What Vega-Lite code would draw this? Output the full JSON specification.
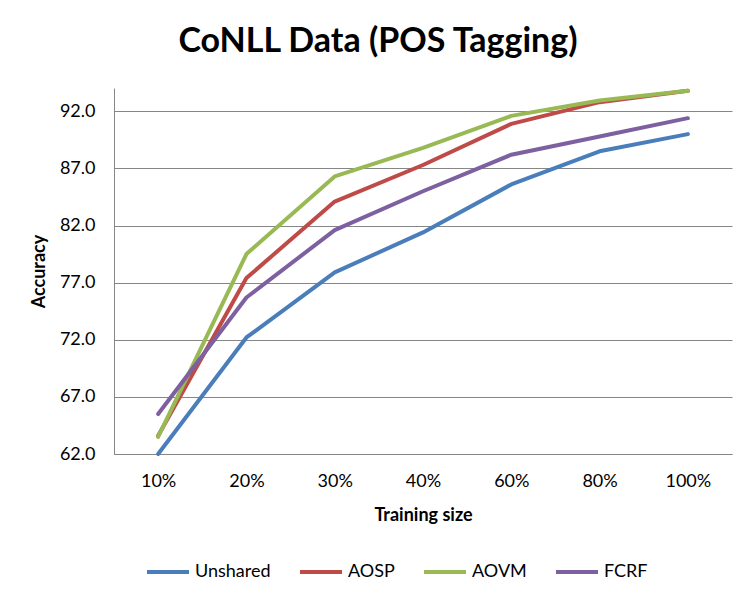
{
  "$schema": "https://vega.github.io/schema/vega-lite/v6.json",
  "autosize": "none",
  "width": 618,
  "height": 366,
  "padding": {"left": 114, "top": 88, "right": 24, "bottom": 148},
  "background": "white",
  "title": {
    "text": "CoNLL Data (POS Tagging)",
    "anchor": "middle",
    "dx": -45,
    "dy": 32,
    "offset": 34,
    "baseline": "alphabetic",
    "font": "Lato",
    "fontSize": 34,
    "fontWeight": "bold",
    "color": "black"
  },
  "data": {
    "values": [
      {"size": "10%", "model": "Unshared", "acc": 62.0},
      {"size": "20%", "model": "Unshared", "acc": 72.2},
      {"size": "30%", "model": "Unshared", "acc": 77.9},
      {"size": "40%", "model": "Unshared", "acc": 81.4},
      {"size": "60%", "model": "Unshared", "acc": 85.6},
      {"size": "80%", "model": "Unshared", "acc": 88.5},
      {"size": "100%", "model": "Unshared", "acc": 90.0},
      {"size": "10%", "model": "AOSP", "acc": 63.6},
      {"size": "20%", "model": "AOSP", "acc": 77.4},
      {"size": "30%", "model": "AOSP", "acc": 84.1},
      {"size": "40%", "model": "AOSP", "acc": 87.3},
      {"size": "60%", "model": "AOSP", "acc": 90.9},
      {"size": "80%", "model": "AOSP", "acc": 92.8},
      {"size": "100%", "model": "AOSP", "acc": 93.8},
      {"size": "10%", "model": "AOVM", "acc": 63.5},
      {"size": "20%", "model": "AOVM", "acc": 79.5},
      {"size": "30%", "model": "AOVM", "acc": 86.3},
      {"size": "40%", "model": "AOVM", "acc": 88.8},
      {"size": "60%", "model": "AOVM", "acc": 91.6},
      {"size": "80%", "model": "AOVM", "acc": 92.95},
      {"size": "100%", "model": "AOVM", "acc": 93.8},
      {"size": "10%", "model": "FCRF", "acc": 65.5},
      {"size": "20%", "model": "FCRF", "acc": 75.7},
      {"size": "30%", "model": "FCRF", "acc": 81.6},
      {"size": "40%", "model": "FCRF", "acc": 85.0},
      {"size": "60%", "model": "FCRF", "acc": 88.2},
      {"size": "80%", "model": "FCRF", "acc": 89.8},
      {"size": "100%", "model": "FCRF", "acc": 91.4}
    ]
  },
  "mark": {"type": "line", "strokeWidth": 4, "strokeJoin": "round", "strokeCap": "round"},
  "encoding": {
    "x": {
      "field": "size",
      "type": "ordinal",
      "sort": ["10%", "20%", "30%", "40%", "60%", "80%", "100%"],
      "scale": {"padding": 0.5},
      "title": "Training size",
      "axis": {
        "labelAngle": 0,
        "ticks": false,
        "tickSize": 0,
        "labelPadding": 18,
        "titlePadding": 16
      }
    },
    "y": {
      "field": "acc",
      "type": "quantitative",
      "scale": {"domain": [62, 94.04], "nice": false, "zero": false},
      "title": "Accuracy",
      "axis": {
        "values": [62, 67, 72, 77, 82, 87, 92],
        "format": ".1f",
        "grid": true,
        "ticks": false,
        "tickSize": 0,
        "labelPadding": 19,
        "titlePadding": 11
      }
    },
    "color": {
      "field": "model",
      "type": "nominal",
      "scale": {
        "domain": ["Unshared", "AOSP", "AOVM", "FCRF"],
        "range": ["#4A7EBB", "#BE4B48", "#98B954", "#7D60A0"]
      },
      "legend": {
        "title": null,
        "orient": "none",
        "direction": "horizontal",
        "legendX": 31,
        "legendY": 461,
        "symbolType": "stroke",
        "symbolSize": 1764,
        "symbolStrokeWidth": 4,
        "labelOffset": 4,
        "columnPadding": 21
      }
    }
  },
  "config": {
    "font": "Lato",
    "view": {"stroke": null},
    "axis": {
      "domainColor": "#868686",
      "domainWidth": 1,
      "gridColor": "#868686",
      "gridWidth": 1,
      "gridOpacity": 1,
      "labelFont": "Lato",
      "labelFontSize": 18,
      "labelColor": "black",
      "titleFont": "Lato",
      "titleFontSize": 18,
      "titleFontWeight": "bold",
      "titleColor": "black"
    },
    "axisX": {"grid": false},
    "legend": {
      "labelFont": "Lato",
      "labelFontSize": 18,
      "labelColor": "black"
    }
  }
}
